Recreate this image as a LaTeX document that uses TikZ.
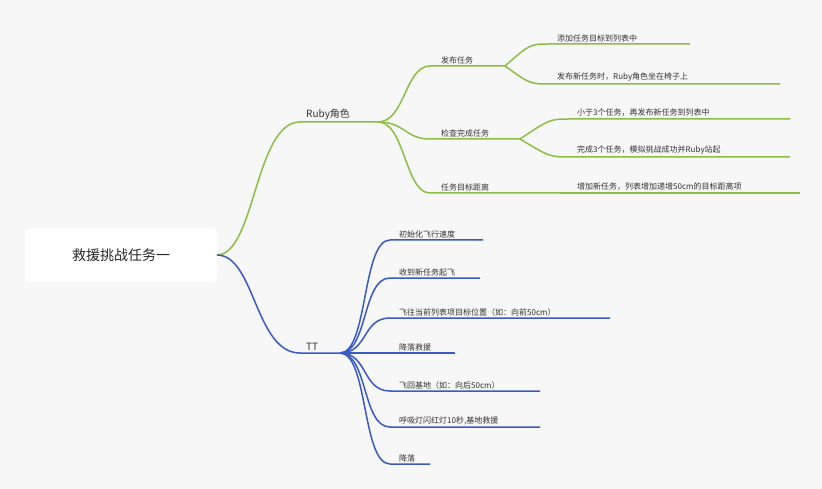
\documentclass[tikz,border=0pt]{standalone}
\usepackage{fontspec}
\setmainfont{Noto Sans CJK SC}
\begin{document}
\begin{tikzpicture}[x=1pt,y=-1pt,
 g/.style={draw=green!55!black!60!lime, line width=1.6pt},
 b/.style={draw=blue!60!cyan!60!black, line width=1.6pt},
 lab/.style={anchor=south west, inner sep=1pt, font=\fontsize{8}{9}\selectfont, text=black!80},
 every node/.style={}]
\colorlet{gc}{green!45!black!50!lime}
\definecolor{gc}{HTML}{8BBE45}
\definecolor{bc}{HTML}{3B5BC4}
\tikzset{g/.style={draw=gc, line width=1.5pt},b/.style={draw=bc, line width=1.5pt}}
\fill[black!3] (0,0) rectangle (822,489);
\useasboundingbox (0,0) rectangle (822,489);
\node[fill=white, rounded corners=4pt, minimum width=192pt, minimum height=54pt, font=\fontsize{14}{16}\selectfont, text=black!85] (root) at (121,255) {救援挑战任务一};
% Ruby
\coordinate (r0) at (217,255);
\coordinate (rA) at (300,122); \coordinate (rB) at (378,122);
\draw[g] (r0) .. controls (255,255) and (255,122) .. (rA) -- (rB);
\node[lab, font=\fontsize{10}{12}\selectfont] (ruby) at (305,121) {Ruby角色};
\foreach \n/\y/\e/\t in {a/66/505/发布任务, c/139/520/检查完成任务, d/193/560/任务目标距离}{
 \coordinate (\n1) at (430,\y); \coordinate (\n2) at (\e,\y);
 \draw[g] (rB) .. controls (405,122) and (405,\y) .. (\n1) -- (\n2);
 \node[lab] (t\n) at (440,\y-1) {\t};
}
\foreach \s/\x/\y/\e/\t/\k in {a/550/44/690/添加任务目标到列表中/1, a/550/84/780/{发布新任务时，Ruby角色坐在椅子上}/2, c/570/119/790/{小于3个任务，再发布新任务到列表中}/3, c/570/157/790/{完成3个任务，模拟挑战成功并Ruby站起}/4}{
 \coordinate (L\k) at (\x,\y); \coordinate (E\k) at (\e,\y);
 \draw[g] (\s2) .. controls (\x-20,{(\y+0)} ) and (\x-20,\y) .. (L\k) -- (E\k);
}
\draw[g] (d2) -- (800,193) coordinate (E5);
\node[lab] (l1) at (556,43) {添加任务目标到列表中};
\node[lab] (l2) at (556,83) {发布新任务时，Ruby角色坐在椅子上};
\node[lab] (l3) at (576,118) {小于3个任务，再发布新任务到列表中};
\node[lab] (l4) at (576,156) {完成3个任务，模拟挑战成功并Ruby站起};
\node[lab] (l5) at (576,192) {增加新任务，列表增加递增50cm的目标距离项};
% TT
\coordinate (t0) at (300,353); \coordinate (t1) at (340,353);
\draw[b] (r0) .. controls (255,255) and (255,353) .. (t0) -- (t1);
\node[lab, font=\fontsize{10}{12}\selectfont] (tt) at (305,352) {TT};
\foreach \k/\y/\e/\t in {1/240/483/初始化飞行速度, 2/278/480/收到新任务起飞, 3/318/610/{飞往当前列表项目标位置（如：向前50cm）}, 4/353/455/降落救援, 5/391/540/{飞回基地（如：向后50cm）}, 6/427/540/{呼吸灯闪红灯10秒,基地救援}, 7/464/430/降落}{
 \coordinate (B\k) at (390,\y); \coordinate (C\k) at (\e,\y);
 \draw[b] (t1) .. controls (368,353) and (362,\y) .. (B\k) -- (C\k);
 \node[lab] (tl\k) at (398,\y-1) {\t};
}
\end{tikzpicture}
\end{document}
